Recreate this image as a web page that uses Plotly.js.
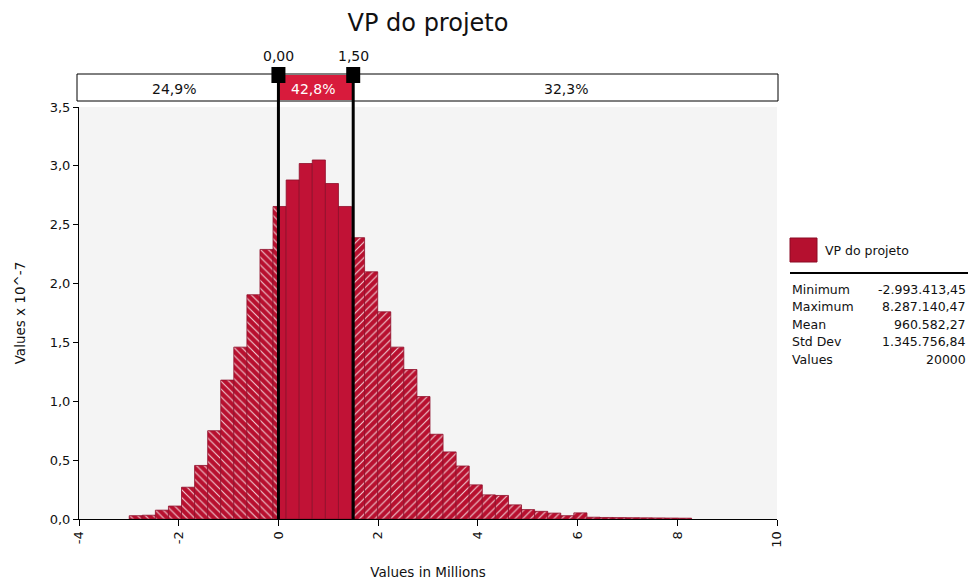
<!DOCTYPE html>
<html><head><meta charset="utf-8">
<script src="https://cdn.plot.ly/plotly-3.0.1.min.js"></script>
<style>body{margin:0;background:#fff}</style>
</head><body>
<div id="chart" style="width:971px;height:585px"></div>
<script>
// ---- data (values in millions; density x 10^-7) ----
const binEdges = [-2.993,-2.731,-2.468,-2.206,-1.944,-1.681,-1.419,-1.157,-0.895,-0.632,-0.370,
  -0.108,0.155,0.417,0.679,0.942,1.204,1.466,1.728,1.991,2.253,2.515,2.778,3.040,3.302,3.564,
  3.827,4.089,4.351,4.614,4.876,5.138,5.401,5.663,5.925,6.188,6.450,6.712,6.974,7.237,7.499,
  7.761,8.024,8.287];
const density = [0.028,0.032,0.075,0.110,0.270,0.455,0.750,1.180,1.460,1.905,2.290,
  2.655,2.880,3.020,3.050,2.850,2.655,2.390,2.100,1.760,1.460,1.270,1.040,0.720,0.570,0.450,
  0.290,0.205,0.200,0.120,0.080,0.065,0.050,0.028,0.052,0.015,0.013,0.012,0.011,0.010,0.009,
  0.008,0.007];
const delimiters = [0, 1.5];
const delimiterLabels = ['0,00', '1,50'];
const regionPercents = ['24,9%', '42,8%', '32,3%'];
const seriesName = 'VP do projeto';
const statNames = ['Minimum', 'Maximum', 'Mean', 'Std Dev', 'Values'];
const statValues = ['-2.993.413,45', '8.287.140,47', '960.582,27', '1.345.756,84', '20000'];
const xTickVals = [-4, -2, 0, 2, 4, 6, 8, 10];
const yTickVals = [0, 0.5, 1.0, 1.5, 2.0, 2.5, 3.0, 3.5];

// ---- layout geometry ----
const W = 971, H = 585;
const PL = 79, PR = 777, PT = 107, PB = 519;
const xMin = -4, xMax = 10;
const px = p => (p - PL) / (PR - PL);          // pixel x -> paper
const py = p => (PB - p) / (PB - PT);          // pixel y -> paper
const dataToPx = v => PL + (v - xMin) / (xMax - xMin) * (PR - PL);

const FONT = 'DejaVu Sans, Verdana, sans-serif';
const RED = '#c11236';
const EDGE = '#8e0e29';

// split bins into the three regions defined by the delimiters
const bounds = [-Infinity, delimiters[0], delimiters[1], Infinity];
const regions = [0, 1, 2].map(r => {
  const xs = [], ws = [], ys = [];
  for (let i = 0; i < density.length; i++) {
    const lo = Math.max(binEdges[i], bounds[r]);
    const hi = Math.min(binEdges[i + 1], bounds[r + 1]);
    if (hi > lo) { xs.push((lo + hi) / 2); ws.push(hi - lo); ys.push(density[i]); }
  }
  return {xs, ws, ys};
});

function barTrace(reg, pattern) {
  const marker = {color: RED, line: {color: EDGE, width: 0.8}};
  if (pattern) marker.pattern = {shape: pattern, fgcolor: '#ffffff', bgcolor: '#b8102f',
                                 fgopacity: 0.8, size: 5.5, solidity: 0.2, fillmode: 'replace'};
  return {type: 'bar', x: reg.xs, y: reg.ys, width: reg.ws, marker,
          name: seriesName, showlegend: false, hoverinfo: 'x+y'};
}
const traces = [barTrace(regions[0], '\\'), barTrace(regions[1], ''), barTrace(regions[2], '/')];

const shapes = [];
const annotations = [];

// delimiter strip
const stripL = 77, stripR = 778, stripT = 74, stripB = 101;
shapes.push({type: 'rect', xref: 'paper', yref: 'paper', x0: px(stripL), x1: px(stripR),
  y0: py(stripB), y1: py(stripT), line: {color: '#000', width: 1}, fillcolor: '#fff'});
shapes.push({type: 'rect', xref: 'x', yref: 'paper', x0: delimiters[0], x1: delimiters[1],
  y0: py(stripB - 1), y1: py(stripT + 1), line: {width: 0}, fillcolor: '#d81b3c'});
delimiters.forEach((d, i) => {
  shapes.push({type: 'line', xref: 'x', yref: 'paper', x0: d, x1: d, y0: 0, y1: py(76),
    line: {color: '#000', width: 3}});
  shapes.push({type: 'rect', xref: 'x', yref: 'paper', xsizemode: 'pixel', xanchor: d,
    x0: -7, x1: 7, y0: py(83), y1: py(67), line: {width: 0}, fillcolor: '#000'});
  annotations.push({xref: 'x', yref: 'paper', x: d, y: py(56), text: delimiterLabels[i],
    showarrow: false, font: {family: FONT, size: 14, color: '#111'}, xanchor: 'center', yanchor: 'middle'});
});
const stripMid = py((stripT + stripB) / 2 + 1);
const leftC = (stripL + dataToPx(delimiters[0]) - 7) / 2;
const midC = (dataToPx(delimiters[0]) + dataToPx(delimiters[1])) / 2 - 3;
const rightC = (dataToPx(delimiters[1]) + stripR) / 2;
[leftC, midC, rightC].forEach((c, i) => {
  annotations.push({xref: 'paper', yref: 'paper', x: px(c), y: stripMid, text: regionPercents[i],
    showarrow: false, xanchor: 'center', yanchor: 'middle',
    font: {family: FONT, size: 14, color: i === 1 ? '#fff' : '#111'}});
});

// legend panel
const LX0 = 790, LX1 = 968;
shapes.push({type: 'rect', xref: 'paper', yref: 'paper', x0: px(LX0), x1: px(817),
  y0: py(262), y1: py(238), line: {color: '#8b0a25', width: 1}, fillcolor: '#b5102f'});
annotations.push({xref: 'paper', yref: 'paper', x: px(823), y: py(251), text: seriesName,
  showarrow: false, xanchor: 'left', yanchor: 'middle', font: {family: FONT, size: 12.5, color: '#111'}});
shapes.push({type: 'line', xref: 'paper', yref: 'paper', x0: px(LX0), x1: px(LX1),
  y0: py(273), y1: py(273), line: {color: '#000', width: 2}});
statNames.forEach((n, i) => {
  const yy = py(289 + i * 17.5);
  annotations.push({xref: 'paper', yref: 'paper', x: px(LX0), y: yy, text: n, showarrow: false,
    xanchor: 'left', yanchor: 'middle', font: {family: FONT, size: 12.5, color: '#111'}});
  annotations.push({xref: 'paper', yref: 'paper', x: px(LX1), y: yy, text: statValues[i], showarrow: false,
    xanchor: 'right', yanchor: 'middle', font: {family: FONT, size: 12.5, color: '#111'}});
});

const layout = {
  width: W, height: H,
  margin: {l: PL, r: W - PR, t: PT, b: H - PB, pad: 0},
  paper_bgcolor: '#fff', plot_bgcolor: '#f4f4f4',
  separators: ',.',
  font: {family: FONT, size: 13, color: '#111'},
  title: {text: seriesName, x: 0.5, xref: 'paper', y: 1 - 23 / H, yanchor: 'middle',
          font: {family: FONT, size: 24, color: '#111'}},
  barmode: 'overlay',
  xaxis: {range: [xMin, xMax], tickvals: xTickVals, ticktext: xTickVals.map(String),
          tickangle: -90, showgrid: false, zeroline: false, showline: true, linecolor: '#000',
          linewidth: 1, ticks: 'outside', ticklen: 6, tickcolor: '#000',
          tickfont: {family: FONT, size: 13, color: '#111'},
          title: {text: 'Values in Millions', font: {family: FONT, size: 13.5, color: '#111'}, standoff: 20}},
  yaxis: {range: [0, 3.5], tickvals: yTickVals, tickformat: '.1f', showgrid: false, zeroline: false,
          showline: true, linecolor: '#000', linewidth: 1, ticks: 'outside', ticklen: 5, tickcolor: '#000',
          tickfont: {family: FONT, size: 13, color: '#111'},
          title: {text: 'Values x 10^-7', font: {family: FONT, size: 13.5, color: '#111'}, standoff: 20}},
  shapes, annotations
};

Plotly.newPlot('chart', traces, layout, {displayModeBar: false, staticPlot: true});
</script>
</body></html>
